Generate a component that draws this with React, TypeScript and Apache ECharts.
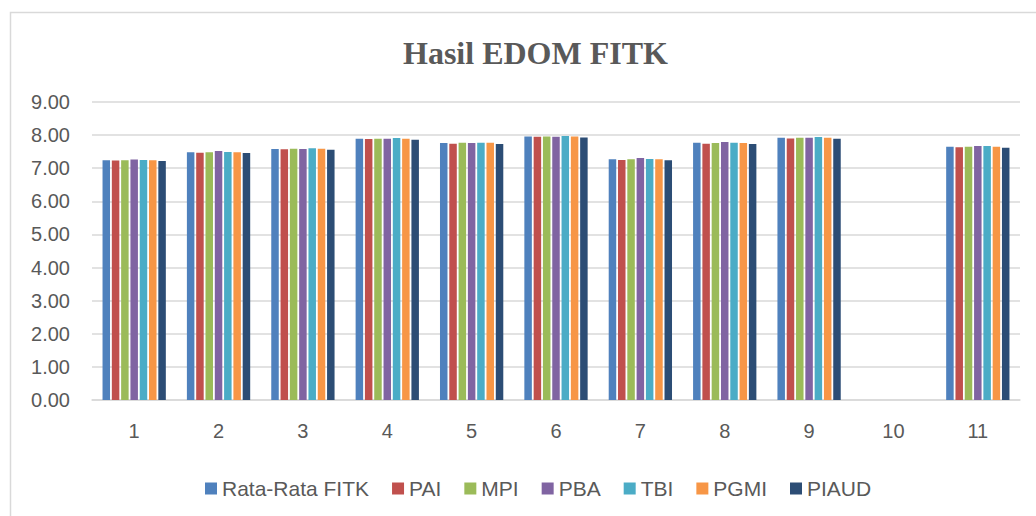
import React, { useEffect, useRef } from "react";
import * as echarts from "echarts";

const categories = ["1", "2", "3", "4", "5", "6", "7", "8", "9", "10", "11"];
const seriesNames = ["Rata-Rata FITK", "PAI", "MPI", "PBA", "TBI", "PGMI", "PIAUD"];
const colors = ["#4F81BD", "#C0504D", "#9BBB59", "#8064A2", "#4BACC6", "#F79646", "#2C4D75"];

const rataRataFITK = [7.24, 7.48, 7.58, 7.89, 7.76, 7.96, 7.27, 7.77, 7.92, 0, 7.65];
const pai = [7.23, 7.47, 7.57, 7.88, 7.74, 7.95, 7.25, 7.74, 7.9, 0, 7.63];
const mpi = [7.24, 7.48, 7.59, 7.89, 7.77, 7.96, 7.27, 7.76, 7.92, 0, 7.65];
const pba = [7.26, 7.52, 7.58, 7.89, 7.76, 7.95, 7.31, 7.79, 7.92, 0, 7.67];
const tbi = [7.25, 7.49, 7.6, 7.91, 7.77, 7.97, 7.28, 7.77, 7.94, 0, 7.67];
const pgmi = [7.24, 7.48, 7.59, 7.89, 7.77, 7.96, 7.27, 7.76, 7.92, 0, 7.65];
const piaud = [7.22, 7.46, 7.56, 7.86, 7.73, 7.93, 7.24, 7.73, 7.89, 0, 7.62];

const allData = [rataRataFITK, pai, mpi, pba, tbi, pgmi, piaud];
const yTicks = { min: 0, max: 9, interval: 1 };

export default function App() {
  const ref = useRef<HTMLDivElement>(null);
  useEffect(() => {
    if (!ref.current) return;
    const chart = echarts.init(ref.current, undefined, { renderer: "svg" });
    const textColor = "#595959";
    chart.setOption({
      animation: false,
      backgroundColor: "#ffffff",
      title: {
        text: "Hasil EDOM FITK",
        left: 398,
        top: 32,
        textStyle: {
          fontFamily: "'Liberation Serif', 'DejaVu Serif', serif",
          fontWeight: "bold",
          fontSize: 32,
          color: textColor,
        },
      },
      graphic: [
        {
          type: "rect",
          shape: { x: 10.5, y: 12.5, width: 1200, height: 700 },
          style: { fill: "none", stroke: "#d9d9d9", lineWidth: 1.5 },
          silent: true,
        },
      ],
      legend: {
        left: 200,
        top: 473,
        itemWidth: 12,
        itemHeight: 12,
        itemGap: 23,
        icon: "rect",
        textStyle: {
          fontFamily: "'Liberation Sans', Arial, sans-serif",
          fontSize: 21,
          color: textColor,
        },
        data: seriesNames,
      },
      grid: { left: 92, right: 16, top: 102, bottom: 116, containLabel: false },
      xAxis: {
        type: "category",
        data: categories,
        axisLine: { lineStyle: { color: "#d9d9d9", width: 1.5 } },
        axisTick: { show: false },
        axisLabel: {
          margin: 21,
          fontFamily: "'Liberation Sans', Arial, sans-serif",
          fontSize: 20,
          color: textColor,
        },
      },
      yAxis: {
        type: "value",
        min: yTicks.min,
        max: yTicks.max,
        interval: yTicks.interval,
        axisLine: { show: false },
        axisTick: { show: false },
        splitLine: { lineStyle: { color: "#d9d9d9", width: 1.5 } },
        axisLabel: {
          margin: 22,
          fontFamily: "'Liberation Sans', Arial, sans-serif",
          fontSize: 20,
          color: textColor,
          formatter: (v: number) => v.toFixed(2),
        },
      },
      series: seriesNames.map((name, i) => ({
        name,
        type: "bar",
        data: allData[i],
        barWidth: 7.5,
        barGap: "24%",
        itemStyle: { color: colors[i] },
      })),
    });
    return () => chart.dispose();
  }, []);
  return (
    <div
      ref={ref}
      style={{ position: "fixed", left: 0, top: 0, width: 1036, height: 516 }}
    />
  );
}
